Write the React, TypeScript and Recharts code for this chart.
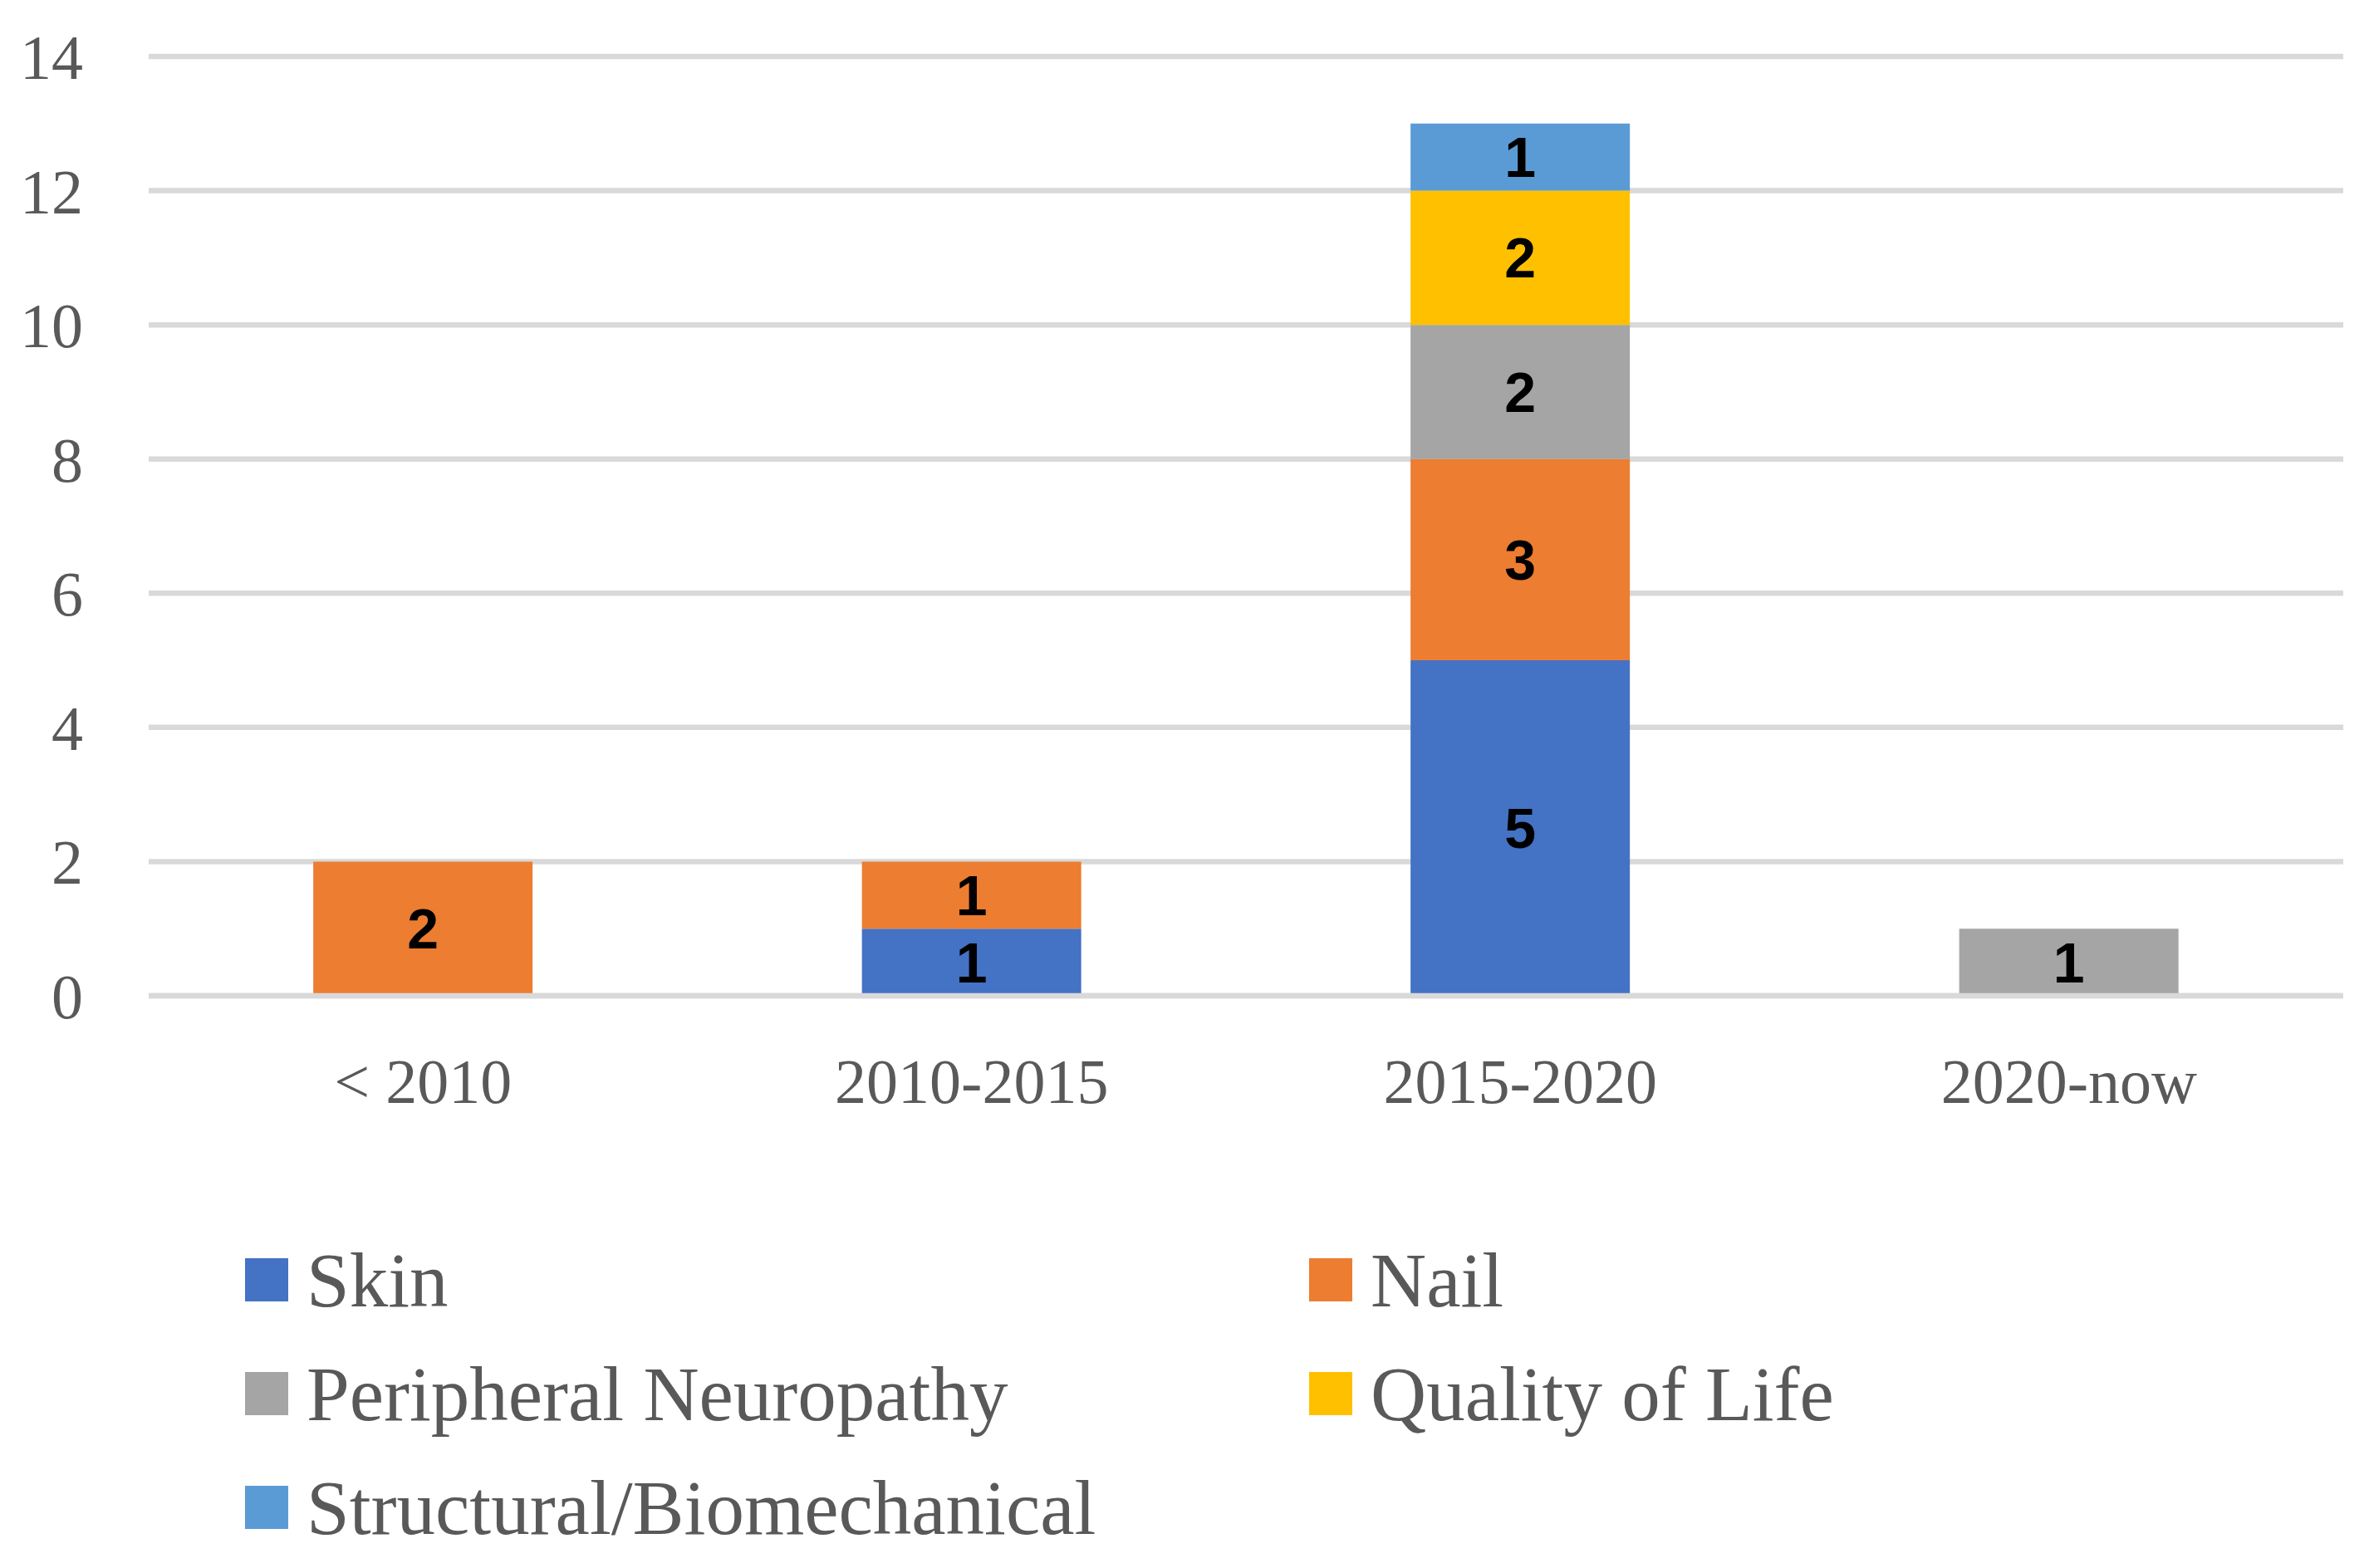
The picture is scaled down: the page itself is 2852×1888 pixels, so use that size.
import React from "react";
import { BarChart, Bar, XAxis, YAxis, CartesianGrid, LabelList } from "recharts";

// ---------------------------------------------------------------------------
// Data
// ---------------------------------------------------------------------------

const categories = ["< 2010", "2010-2015", "2015-2020", "2020-now"];

const skin = [0, 1, 5, 0];
const nail = [2, 1, 3, 0];
const neuropathy = [0, 0, 2, 1];
const qualityOfLife = [0, 0, 2, 0];
const structural = [0, 0, 1, 0];

const yTicks = [0, 2, 4, 6, 8, 10, 12, 14];

const series = [
  { key: "skin", name: "Skin", values: skin, color: "#4472C4" },
  { key: "nail", name: "Nail", values: nail, color: "#ED7D31" },
  { key: "neuropathy", name: "Peripheral Neuropathy", values: neuropathy, color: "#A5A5A5" },
  { key: "qol", name: "Quality of Life", values: qualityOfLife, color: "#FFC000" },
  { key: "structural", name: "Structural/Biomechanical", values: structural, color: "#5B9BD5" },
];

const data = categories.map((cat, i) => {
  const row: Record<string, string | number> = { category: cat };
  series.forEach((s) => {
    row[s.key] = s.values[i];
  });
  return row;
});

// ---------------------------------------------------------------------------
// Styles
// ---------------------------------------------------------------------------

const W = 2852;
const H = 1888;
const GRID = "#D9D9D9";
const TEXT = "#595959";
const SERIF = "'Liberation Serif', 'DejaVu Serif', serif";

const hideZero = (v: unknown) => (v ? String(v) : "");

// ---------------------------------------------------------------------------
// Legend (two columns, rows top to bottom)
// ---------------------------------------------------------------------------

function ChartLegend() {
  const colX = [295, 1576];
  const rowY = [1541, 1678, 1815];
  return (
    <>
      {series.map((s, i) => (
        <div
          key={s.key}
          style={{
            position: "absolute",
            left: colX[i % 2],
            top: rowY[Math.floor(i / 2)] - 46,
            height: 92,
            display: "flex",
            alignItems: "center",
            whiteSpace: "nowrap",
          }}
        >
          <span style={{ display: "inline-block", width: 52, height: 52, background: s.color }} />
          <span
            style={{
              marginLeft: 22,
              fontFamily: SERIF,
              fontSize: 93,
              lineHeight: 1,
              color: TEXT,
            }}
          >
            {s.name}
          </span>
        </div>
      ))}
    </>
  );
}

// ---------------------------------------------------------------------------
// App
// ---------------------------------------------------------------------------

export default function App() {
  return (
    <div style={{ position: "absolute", left: 0, top: 0, width: W, height: H, background: "#fff" }}>
      <BarChart
        width={W}
        height={H}
        data={data}
        margin={{ top: 68, right: 31, left: 0, bottom: 659 }}
        barCategoryGap="30%"
      >
        <CartesianGrid vertical={false} stroke={GRID} strokeWidth={6.5} />
        <XAxis
          dataKey="category"
          axisLine={{ stroke: GRID, strokeWidth: 6.5 }}
          tickLine={false}
          tickMargin={69}
          height={30}
          tick={{ fontSize: 76, fill: TEXT, fontFamily: SERIF }}
        />
        <YAxis
          domain={[0, 14]}
          ticks={yTicks}
          axisLine={false}
          tickLine={false}
          width={179}
          tickMargin={73}
          tick={{ fontSize: 76, fill: TEXT, fontFamily: SERIF }}
        />
        {series.map((s) => (
          <Bar key={s.key} dataKey={s.key} name={s.name} stackId="a" fill={s.color} isAnimationActive={false}>
            <LabelList
              dataKey={s.key}
              position="center"
              formatter={hideZero}
              fill="#000"
              style={{ fontSize: 68, fontWeight: 700, fontFamily: "'Liberation Sans', Arial, sans-serif" }}
            />
          </Bar>
        ))}
      </BarChart>
      <ChartLegend />
    </div>
  );
}
